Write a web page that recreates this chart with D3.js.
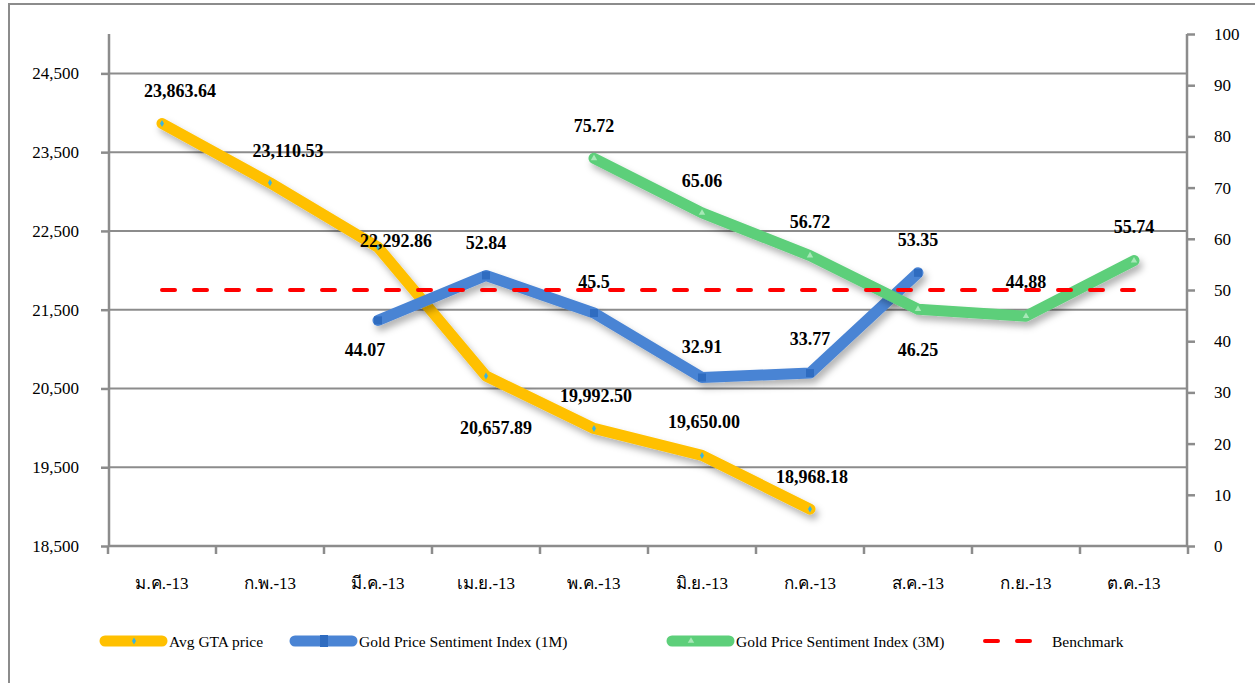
<!DOCTYPE html>
<html>
<head>
<meta charset="utf-8">
<script src="https://cdn.jsdelivr.net/npm/d3@7"></script>
<style>
  html, body { margin: 0; padding: 0; background: #fff; }
  svg { display: block; }
  svg text { font-family: "Liberation Serif", Tinos, "Times New Roman", "DejaVu Serif", serif !important; }
</style>
</head>
<body>
<svg id="chart" width="1255" height="683"></svg>
<script>
// Monthly categories (Thai month abbreviations, 2013)
const months = ["ม.ค.-13", "ก.พ.-13", "มี.ค.-13", "เม.ย.-13", "พ.ค.-13",
                "มิ.ย.-13", "ก.ค.-13", "ส.ค.-13", "ก.ย.-13", "ต.ค.-13"];

// Average gold trader association price (left axis)
const avgGtaPrice = [23863.64, 23110.53, 22292.86, 20657.89, 19992.50,
                     19650.00, 18968.18, null, null, null];
const avgGtaLabels = ["23,863.64", "23,110.53", "22,292.86", "20,657.89", "19,992.50",
                      "19,650.00", "18,968.18", null, null, null];

// Sentiment indices (right axis)
const sentiment1M = [null, null, 44.07, 52.84, 45.5, 32.91, 33.77, 53.35, null, null];
const sentiment3M = [null, null, null, null, 75.72, 65.06, 56.72, 46.25, 44.88, 55.74];
const benchmark   = [50, 50, 50, 50, 50, 50, 50, 50, 50, 50];

// Axis ticks
const leftTicks  = [18500, 19500, 20500, 21500, 22500, 23500, 24500];
const rightTicks = [0, 10, 20, 30, 40, 50, 60, 70, 80, 90, 100];

// Label placement relative to each point [dx, dy] (centre of text)
const gtaLabelOffsets = [[18, -33], [18, -32], [18, -6], [10, 52], [2, -32], [2, -33], [2, -32]];
const m1LabelOffsets = {2: [-13, 30], 3: [0, -32], 4: [0, -31], 5: [0, -31], 6: [0, -34], 7: [0, -33]};
const m3LabelOffsets = {4: [0, -32], 5: [0, -32], 6: [0, -34], 7: [0, 41], 8: [0, -34], 9: [0, -34]};

const svg = d3.select("#chart");
const plot = { left: 108, right: 1188, top: 34, bottom: 546 };
const gray = "#8c8c8c";
const colors = { gta: "#FFC000", m1: "#4A84D4", m3: "#5DCF7A", bench: "#FF0000" };

// Drop shadow for the thick series lines
const defs = svg.append("defs");
const f = defs.append("filter").attr("id", "shadow")
  .attr("x", "-10%").attr("y", "-10%").attr("width", "130%").attr("height", "140%");
f.append("feDropShadow").attr("dx", 3).attr("dy", 5).attr("stdDeviation", 3.5)
  .attr("flood-color", "#000").attr("flood-opacity", 0.3);

// Outer frame
svg.append("rect").attr("x", 9).attr("y", 4).attr("width", 1260).attr("height", 700)
  .attr("fill", "none").attr("stroke", gray).attr("stroke-width", 2);

const x = d3.scaleBand().domain(months).range([plot.left, plot.right]);
const xc = d => x(d) + x.bandwidth() / 2;
const yL = d3.scaleLinear().domain([18500, 25000]).range([plot.bottom, plot.top]);
const yR = d3.scaleLinear().domain([0, 100]).range([plot.bottom, plot.top]);

// Gridlines at left-axis ticks
svg.append("g").selectAll("line").data(leftTicks.filter(t => t > 18500)).join("line")
  .attr("x1", plot.left).attr("x2", plot.right)
  .attr("y1", d => yL(d)).attr("y2", d => yL(d))
  .attr("stroke", gray).attr("stroke-width", 2);

// Left axis
const leftAxis = svg.append("g").attr("transform", `translate(${plot.left + 1},0)`)
  .call(d3.axisLeft(yL).tickValues(leftTicks).tickSize(8).tickPadding(22)
    .tickFormat(d3.format(",")));
leftAxis.attr("font-family", null).attr("font-size", 17);
leftAxis.select(".domain").attr("stroke", gray).attr("stroke-width", 2.5)
  .attr("d", `M0,${plot.top}V${plot.bottom}`);
leftAxis.selectAll(".tick line").attr("stroke", gray).attr("stroke-width", 2.5);
leftAxis.selectAll(".tick text").attr("font-size", 17).attr("fill", "#000");

// Right axis
const rightAxis = svg.append("g").attr("transform", `translate(${plot.right - 1},0)`)
  .call(d3.axisRight(yR).tickValues(rightTicks).tickSize(8).tickPadding(19));
rightAxis.attr("font-family", null).attr("font-size", 17);
rightAxis.select(".domain").attr("stroke", gray).attr("stroke-width", 2.5)
  .attr("d", `M0,${plot.top}V${plot.bottom}`);
rightAxis.selectAll(".tick line").attr("stroke", gray).attr("stroke-width", 2.5);
rightAxis.selectAll(".tick text").attr("font-size", 17).attr("fill", "#000");

// Bottom axis: ticks at category boundaries
const bottom = svg.append("g");
bottom.append("line").attr("x1", plot.left).attr("x2", plot.right)
  .attr("y1", plot.bottom).attr("y2", plot.bottom)
  .attr("stroke", gray).attr("stroke-width", 2.5);
const bounds = months.map(m => x(m)).concat([plot.right]);
bottom.selectAll("line.tk").data(bounds).join("line").attr("class", "tk")
  .attr("x1", d => d).attr("x2", d => d)
  .attr("y1", plot.bottom).attr("y2", plot.bottom + 8)
  .attr("stroke", gray).attr("stroke-width", 2.5);
bottom.selectAll("text").data(months).join("text")
  .attr("x", d => xc(d)).attr("y", plot.bottom + 37)
  .attr("text-anchor", "middle").attr("dominant-baseline", "central")
  .attr("font-size", 17).attr("fill", "#000").text(d => d);

// Series lines
function drawLine(values, yScale, color) {
  const line = d3.line().defined(d => d.v != null)
    .x(d => xc(d.m)).y(d => yScale(d.v));
  const pts = values.map((v, i) => ({ m: months[i], v }));
  svg.append("path").datum(pts).attr("d", line)
    .attr("fill", "none").attr("stroke", color).attr("stroke-width", 11)
    .attr("stroke-linecap", "round").attr("stroke-linejoin", "round")
    .attr("filter", "url(#shadow)");
  return pts.filter(d => d.v != null);
}

const gtaPts = drawLine(avgGtaPrice, yL, colors.gta);
svg.append("g").selectAll("path").data(gtaPts).join("path")
  .attr("d", d3.symbol(d3.symbolDiamond, 14))
  .attr("transform", d => `translate(${xc(d.m)},${yL(d.v)})`)
  .attr("fill", "#3ab4e0");

const m1Pts = drawLine(sentiment1M, yR, colors.m1);
svg.append("g").selectAll("rect").data(m1Pts).join("rect")
  .attr("x", d => xc(d.m) - 4).attr("y", d => yR(d.v) - 4)
  .attr("width", 8).attr("height", 8).attr("fill", "#2f6cc0");

const m3Pts = drawLine(sentiment3M, yR, colors.m3);
svg.append("g").selectAll("path").data(m3Pts).join("path")
  .attr("d", d3.symbol(d3.symbolTriangle, 18))
  .attr("transform", d => `translate(${xc(d.m)},${yR(d.v)})`)
  .attr("fill", "#a8e8b8");

// Benchmark dashed line
svg.append("path").datum(benchmark.map((v, i) => ({ m: months[i], v })))
  .attr("d", d3.line().x(d => xc(d.m)).y(d => yR(d.v)))
  .attr("fill", "none").attr("stroke", colors.bench).attr("stroke-width", 4)
  .attr("stroke-linecap", "round").attr("stroke-dasharray", "13,19");

// Data labels
const labels = svg.append("g").attr("font-size", 18).attr("font-weight", "bold")
  .attr("text-anchor", "middle").attr("dominant-baseline", "central").attr("fill", "#000");
avgGtaPrice.forEach((v, i) => {
  if (v == null) return;
  const [dx, dy] = gtaLabelOffsets[i];
  labels.append("text").attr("x", xc(months[i]) + dx).attr("y", yL(v) + dy).text(avgGtaLabels[i]);
});
sentiment1M.forEach((v, i) => {
  if (v == null) return;
  const [dx, dy] = m1LabelOffsets[i];
  labels.append("text").attr("x", xc(months[i]) + dx).attr("y", yR(v) + dy).text(String(v));
});
sentiment3M.forEach((v, i) => {
  if (v == null) return;
  const [dx, dy] = m3LabelOffsets[i];
  labels.append("text").attr("x", xc(months[i]) + dx).attr("y", yR(v) + dy).text(String(v));
});

// Legend
const legendItems = [
  { name: "Avg GTA price", color: colors.gta, x0: 100, marker: "diamond" },
  { name: "Gold Price Sentiment Index (1M)", color: colors.m1, x0: 290, marker: "square" },
  { name: "Gold Price Sentiment Index (3M)", color: colors.m3, x0: 667, marker: "triangle" },
  { name: "Benchmark", color: colors.bench, x0: 983, marker: "dash" }
];
const ly = 641;
const legend = svg.append("g");
legendItems.forEach(it => {
  const g = legend.append("g");
  if (it.marker === "dash") {
    g.append("line").attr("x1", it.x0 + 2).attr("x2", it.x0 + 62).attr("y1", ly).attr("y2", ly)
      .attr("stroke", it.color).attr("stroke-width", 4).attr("stroke-linecap", "round")
      .attr("stroke-dasharray", "13,19");
  } else {
    g.append("line").attr("x1", it.x0 + 5).attr("x2", it.x0 + 62).attr("y1", ly).attr("y2", ly)
      .attr("stroke", it.color).attr("stroke-width", 11).attr("stroke-linecap", "round");
    const cx = it.x0 + 34;
    if (it.marker === "diamond") {
      g.append("path").attr("d", d3.symbol(d3.symbolDiamond, 14))
        .attr("transform", `translate(${cx},${ly})`).attr("fill", "#3ab4e0");
    } else if (it.marker === "square") {
      g.append("rect").attr("x", cx - 4).attr("y", ly - 6).attr("width", 8).attr("height", 12)
        .attr("fill", "#2f6cc0");
    } else {
      g.append("path").attr("d", d3.symbol(d3.symbolTriangle, 18))
        .attr("transform", `translate(${cx - 10},${ly})`).attr("fill", "#a8e8b8");
    }
  }
  g.append("text").attr("x", it.x0 + 69).attr("y", ly).attr("dominant-baseline", "central")
    .attr("font-size", 15.5).attr("fill", "#000").text(it.name);
});
</script>
</body>
</html>
